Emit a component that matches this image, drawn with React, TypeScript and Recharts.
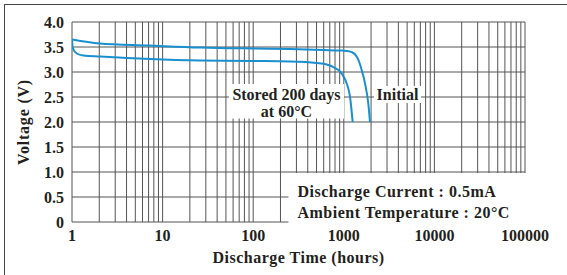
import React from 'react';
import { LineChart, Line, XAxis, YAxis, CartesianGrid, ReferenceArea } from 'recharts';

const initialHours = [1, 2, 7, 26, 100, 255, 600, 908, 1077, 1250, 1387, 1480, 1576, 1716, 1864, 1945];
const initialVolts = [3.65, 3.57, 3.53, 3.49, 3.47, 3.46, 3.44, 3.43, 3.42, 3.39, 3.31, 3.2, 3.04, 2.77, 2.37, 2.0];
const storedHours = [1, 1.02, 1.13, 1.33, 2.04, 7.26, 26, 100, 255, 500, 648, 800, 908, 1000, 1077, 1170, 1253];
const storedVolts = [3.65, 3.48, 3.37, 3.33, 3.31, 3.26, 3.23, 3.22, 3.21, 3.18, 3.15, 3.08, 3.01, 2.9, 2.77, 2.51, 2.0];

const gridHours = [
  1, 2, 3, 4, 5, 6, 7, 8, 9,
  10, 20, 30, 40, 50, 60, 70, 80, 90,
  100, 200, 300, 400, 500, 600, 700, 800, 900,
  1000, 2000, 3000, 4000, 5000, 6000, 7000, 8000, 9000,
  10000, 20000, 30000, 40000, 50000, 60000, 70000, 80000, 90000,
  100000,
];
const decadeLabels = [1, 10, 100, 1000, 10000, 100000];
const voltTicks = [0, 0.5, 1.0, 1.5, 2.0, 2.5, 3.0, 3.5, 4.0];

const initialData = initialHours.map((h, i) => ({ h, v: initialVolts[i] }));
const storedData = storedHours.map((h, i) => ({ h, v: storedVolts[i] }));

const FONT = '"Liberation Serif", "Times New Roman", serif';
const INK = '#231f20';
const BLUE = '#1a8fd0';

const textStyle = { fontFamily: FONT, fontWeight: 700, fontSize: 16, fill: INK } as const;

export default function App() {
  return (
    <div style={{ position: 'absolute', left: 0, top: 0, width: 567, height: 275, background: '#fff', overflow: 'hidden' }}>
      <div style={{ position: 'absolute', left: 4, top: 4, width: 600, height: 300, borderTop: '1.5px solid #444', borderLeft: '1.5px solid #444' }} />
      <LineChart width={567} height={275} margin={{ top: 22, right: 42, left: 0, bottom: 0 }} style={{ position: 'absolute', left: 0, top: 0 }}>
        <CartesianGrid stroke="#555" strokeWidth={1} />
        <XAxis
          dataKey="h"
          type="number"
          scale="log"
          domain={[1, 100000]}
          ticks={gridHours}
          interval={0}
          allowDataOverflow
          height={53}
          tickLine={false}
          axisLine={false}
          tickFormatter={(v: number) => (decadeLabels.includes(v) ? String(v) : '')}
          tick={{ ...textStyle }}
          label={{
            content: ({ viewBox }: any) => (
              <text
                x={viewBox.x + viewBox.width / 2}
                y={viewBox.y + 41}
                textAnchor="middle"
                style={{ ...textStyle, letterSpacing: 0.5 }}
              >
                Discharge Time (hours)
              </text>
            ),
          }}
        />
        <YAxis
          dataKey="v"
          type="number"
          domain={[0, 4]}
          ticks={voltTicks}
          interval={0}
          width={72}
          tickLine={false}
          axisLine={false}
          tickFormatter={(v: number) => (v === 0 ? '0' : v.toFixed(1))}
          tick={{ ...textStyle }}
          label={{
            content: ({ viewBox }: any) => {
              const cx = 23;
              const cy = viewBox.y + viewBox.height / 2;
              return (
                <text
                  x={cx}
                  y={cy}
                  textAnchor="middle"
                  dominantBaseline="central"
                  transform={`rotate(-90 ${cx} ${cy})`}
                  style={{ ...textStyle, letterSpacing: 0.8 }}
                >
                  Voltage (V)
                </text>
              );
            },
          }}
        />
        <Line data={initialData} dataKey="v" type="monotone" stroke={BLUE} strokeWidth={2} dot={false} isAnimationActive={false} />
        <Line data={storedData} dataKey="v" type="monotone" stroke={BLUE} strokeWidth={2} dot={false} isAnimationActive={false} />
        <ReferenceArea
          x1={54}
          x2={1005}
          y1={2.07}
          y2={2.76}
          fill="#fff"
          fillOpacity={1}
          stroke="none"
          ifOverflow="visible"
          label={{
            content: ({ viewBox }: any) => (
              <g>
                <text x={viewBox.x + viewBox.width / 2} y={viewBox.y + 10} textAnchor="middle" dominantBaseline="central" style={textStyle}>
                  Stored 200 days
                </text>
                <text x={viewBox.x + viewBox.width / 2} y={viewBox.y + 27} textAnchor="middle" dominantBaseline="central" style={textStyle}>
                  at 60°C
                </text>
              </g>
            ),
          }}
        />
        <ReferenceArea
          x1={2154}
          x2={7115}
          y1={2.38}
          y2={2.72}
          fill="#fff"
          fillOpacity={1}
          stroke="none"
          ifOverflow="visible"
          label={{
            content: ({ viewBox }: any) => (
              <text x={viewBox.x + viewBox.width / 2} y={viewBox.y + 8} textAnchor="middle" dominantBaseline="central" style={textStyle}>
                Initial
              </text>
            ),
          }}
        />
        <ReferenceArea
          x1={245}
          x2={120000}
          y1={-0.1}
          y2={0.98}
          fill="#fff"
          fillOpacity={1}
          stroke="none"
          ifOverflow="visible"
          label={{
            content: ({ viewBox }: any) => (
              <g>
                <text x={viewBox.x + 9} y={viewBox.y + 18.5} dominantBaseline="central" style={{ ...textStyle, letterSpacing: 0.5 }}>
                  Discharge Current : 0.5mA
                </text>
                <text x={viewBox.x + 9} y={viewBox.y + 39} dominantBaseline="central" style={{ ...textStyle, letterSpacing: 0.5 }}>
                  Ambient Temperature : 20°C
                </text>
              </g>
            ),
          }}
        />
      </LineChart>
    </div>
  );
}
